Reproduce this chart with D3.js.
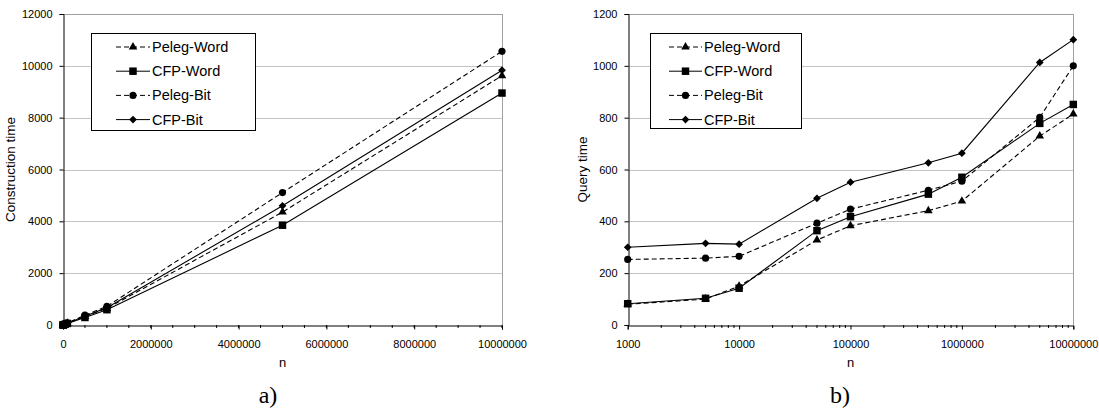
<!DOCTYPE html>
<html>
<head>
<meta charset="utf-8">
<script src="https://cdn.jsdelivr.net/npm/d3@7"></script>
<style>
  html, body { margin: 0; padding: 0; background: #fff; }
  svg { display: block; }
  text { font-family: "Liberation Sans", Arial, sans-serif; fill: #000; }
</style>
</head>
<body>
<svg id="fig" width="1099" height="413"></svg>
<script>
// Problem sizes (shared by both panels)
const sizes = [1000, 5000, 10000, 50000, 100000, 500000, 1000000, 5000000, 10000000];

// Series names
const seriesNames = ["Peleg-Word", "CFP-Word", "Peleg-Bit", "CFP-Bit"];

// a) Construction time
const buildPelegWord = [1, 5, 9, 35, 70, 330, 640, 4355, 9620];
const buildCfpWord   = [1, 4, 8, 30, 60, 290, 590, 3850, 8950];
const buildPelegBit  = [1, 5, 10, 40, 80, 380, 720, 5110, 10560];
const buildCfpBit    = [1, 5, 9, 36, 72, 340, 670, 4600, 9830];

// b) Query time
const queryPelegWord = [80, 100, 150, 328, 383, 441, 478, 729, 814];
const queryCfpWord   = [82, 103, 142, 364, 418, 505, 570, 778, 851];
const queryPelegBit  = [253, 258, 265, 393, 447, 520, 555, 801, 1000];
const queryCfpBit    = [300, 315, 312, 489, 551, 626, 663, 1013, 1101];

// Axis ticks
const buildYTicks = [0, 2000, 4000, 6000, 8000, 10000, 12000];
const buildXTicks = [0, 2000000, 4000000, 6000000, 8000000, 10000000];
const queryYTicks = [0, 200, 400, 600, 800, 1000, 1200];
const queryXTicks = [1000, 10000, 100000, 1000000, 10000000];

const styles = {
  "Peleg-Word": { dash: "5,3", symbol: d3.symbolTriangle, size: 32, rotate: 0 },
  "CFP-Word":   { dash: null,  symbol: d3.symbolSquare,   size: 56, rotate: 0 },
  "Peleg-Bit":  { dash: "5,3", symbol: d3.symbolCircle,   size: 40, rotate: 0 },
  "CFP-Bit":    { dash: null,  symbol: d3.symbolSquare,   size: 30, rotate: 45 }
};

const svg = d3.select("#fig");

function drawPanel(cfg) {
  const g = svg.append("g");
  const x = cfg.x, y = cfg.y;
  const [x0, x1] = x.range();
  const [yb, yt] = y.range();

  // horizontal gridlines
  g.append("g").selectAll("line").data(cfg.yTicks.filter(v => v > 0)).join("line")
    .attr("x1", x0).attr("x2", x1)
    .attr("y1", d => Math.round(y(d)) + 0.5).attr("y2", d => Math.round(y(d)) + 0.5)
    .attr("stroke", "#c4c4c4").attr("stroke-width", 1);

  // plot frame (top and right)
  g.append("line").attr("x1", Math.round(x1) + 0.5).attr("x2", Math.round(x1) + 0.5)
    .attr("y1", yt).attr("y2", yb).attr("stroke", "#a0a0a0");
  g.append("line").attr("x1", x0).attr("x2", x1)
    .attr("y1", Math.round(yt) + 0.5).attr("y2", Math.round(yt) + 0.5).attr("stroke", "#a0a0a0");

  // y axis
  const ya = g.append("g").attr("transform", `translate(${Math.round(x0) + 0.5},0)`)
    .call(d3.axisLeft(y).tickValues(cfg.yTicks).tickSize(4).tickPadding(7).tickFormat(d3.format("d")));
  ya.select(".domain").attr("stroke", "#000");
  ya.selectAll("text").attr("font-size", 11).attr("font-family", "Liberation Sans, Arial, sans-serif");

  // x axis minor ticks
  g.append("g").selectAll("line").data(cfg.xMinor).join("line")
    .attr("x1", d => x(d)).attr("x2", d => x(d))
    .attr("y1", Math.round(yb)).attr("y2", Math.round(yb) + 3)
    .attr("stroke", "#000");

  // x axis
  const xa = g.append("g").attr("transform", `translate(0,${Math.round(yb) + 0.5})`)
    .call(d3.axisBottom(x).tickValues(cfg.xTicks).tickSize(4).tickPadding(11).tickFormat(d3.format("d")));
  xa.select(".domain").attr("stroke", "#000");
  xa.selectAll("text").attr("font-size", 11).attr("font-family", "Liberation Sans, Arial, sans-serif");

  // axis titles
  g.append("text").attr("x", (x0 + x1) / 2).attr("y", 367)
    .attr("text-anchor", "middle").attr("font-size", 13).text("n");
  g.append("text")
    .attr("transform", `translate(${cfg.yTitleX},${(yb + yt) / 2}) rotate(-90)`)
    .attr("text-anchor", "middle").attr("font-size", 13.5).text(cfg.yTitle);

  // panel caption
  g.append("text").attr("x", cfg.captionX).attr("y", 403)
    .attr("text-anchor", "middle")
    .style("font-family", "'Liberation Serif', 'DejaVu Serif', serif")
    .attr("font-size", 24).text(cfg.caption);

  // series lines and markers
  const line = d3.line().x(d => x(d[0])).y(d => y(d[1]));
  cfg.series.forEach(s => {
    const st = styles[s.name];
    const pts = sizes.map((n, i) => [n, s.values[i]]);
    g.append("path").datum(pts).attr("d", line)
      .attr("fill", "none").attr("stroke", "#000").attr("stroke-width", 1.1)
      .attr("stroke-dasharray", st.dash);
    g.append("g").selectAll("path").data(pts).join("path")
      .attr("d", d3.symbol(st.symbol, st.size))
      .attr("transform", d => `translate(${x(d[0])},${y(d[1])}) rotate(${st.rotate})`)
      .attr("fill", "#000");
  });

  // legend
  const L = cfg.legend;
  const lg = g.append("g");
  lg.append("rect").attr("x", L.x + 0.5).attr("y", L.y + 0.5).attr("width", L.w).attr("height", L.h)
    .attr("fill", "#fff").attr("stroke", "#000");
  seriesNames.forEach((name, i) => {
    const st = styles[name];
    const ry = L.y + 14 + i * 24.2;
    lg.append("line").attr("x1", L.x + L.lineX0).attr("x2", L.x + L.lineX1)
      .attr("y1", ry).attr("y2", ry).attr("stroke", "#000").attr("stroke-dasharray", st.dash);
    lg.append("path").attr("d", d3.symbol(st.symbol, st.size))
      .attr("transform", `translate(${L.x + (L.lineX0 + L.lineX1) / 2},${ry}) rotate(${st.rotate})`)
      .attr("fill", "#000");
    lg.append("text").attr("x", L.x + L.textX).attr("y", ry + 5)
      .attr("font-size", 14.5).text(name);
  });
}

// minor ticks
const buildXMinor = d3.range(0, 10000001, 500000);
const queryXMinor = [];
for (let e = 3; e < 7; e++) for (let k = 2; k <= 9; k++) queryXMinor.push(k * Math.pow(10, e));

drawPanel({
  x: d3.scaleLinear().domain([0, 10000000]).range([63, 502]),
  y: d3.scaleLinear().domain([0, 12000]).range([325, 14]),
  yTicks: buildYTicks, xTicks: buildXTicks, xMinor: buildXMinor,
  yTitle: "Construction time", yTitleX: 15,
  caption: "a)", captionX: 268,
  legend: { x: 91, y: 33, w: 164, h: 97, lineX0: 25, lineX1: 59, textX: 61 },
  series: [
    { name: "Peleg-Word", values: buildPelegWord },
    { name: "CFP-Word", values: buildCfpWord },
    { name: "Peleg-Bit", values: buildPelegBit },
    { name: "CFP-Bit", values: buildCfpBit }
  ]
});

drawPanel({
  x: d3.scaleLog().domain([1000, 10000000]).range([627.7, 1073.3]),
  y: d3.scaleLinear().domain([0, 1200]).range([325, 14]),
  yTicks: queryYTicks, xTicks: queryXTicks, xMinor: queryXMinor,
  yTitle: "Query time", yTitleX: 587,
  caption: "b)", captionX: 840,
  legend: { x: 650, y: 33, w: 151, h: 95, lineX0: 19, lineX1: 52, textX: 54 },
  series: [
    { name: "Peleg-Word", values: queryPelegWord },
    { name: "CFP-Word", values: queryCfpWord },
    { name: "Peleg-Bit", values: queryPelegBit },
    { name: "CFP-Bit", values: queryCfpBit }
  ]
});
</script>
</body>
</html>
